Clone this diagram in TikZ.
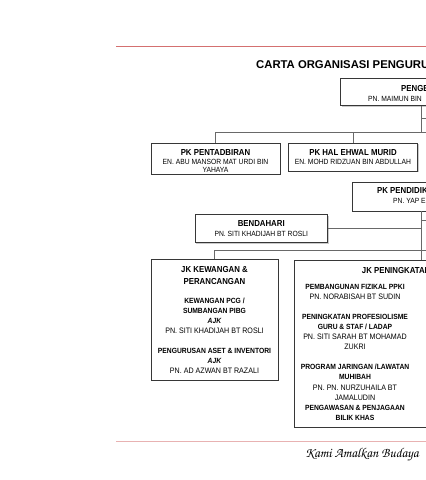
\documentclass[tikz,border=0pt]{standalone}
\usepackage{fontspec}
\setmainfont{Liberation Sans}
\newfontfamily\narrowfont[FakeStretch=0.9]{Liberation Sans}
\usetikzlibrary{positioning,calc,shadows}
\definecolor{cLine}{RGB}{105,105,105}
\definecolor{cBorder}{RGB}{55,55,55}
\definecolor{cRule}{RGB}{212,112,112}
\definecolor{cRuleSoft}{RGB}{232,178,178}
\tikzset{
	orgbox/.style={rectangle, draw=cBorder, line width=0.8pt, fill=white, inner sep=0pt,
		drop shadow={shadow xshift=1.2pt, shadow yshift=-1.2pt, opacity=0.35, fill=black!60}},
	link/.style={draw=cLine, line width=0.9pt},
	rule/.style={line width=0.9pt},
	% text styles
	ttl/.style={font=\bfseries\fontsize{11.3}{13}\selectfont, inner sep=0pt},
	hd/.style={font=\narrowfont\bfseries\fontsize{8.7}{10}\selectfont, inner sep=0pt},
	sub/.style={font=\narrowfont\bfseries\fontsize{7.5}{9}\selectfont, inner sep=0pt},
	ajk/.style={font=\narrowfont\bfseries\itshape\fontsize{7.5}{9}\selectfont, inner sep=0pt},
	nm/.style={font=\narrowfont\fontsize{7.5}{9}\selectfont, inner sep=0pt},
	nmb/.style={font=\narrowfont\fontsize{7.9}{9}\selectfont, inner sep=0pt},
	motto/.style={font=\usefont{OT1}{pzc}{mb}{it}\fontsize{13.6}{15}\selectfont, inner sep=0pt},
}

\begin{document}
\begin{tikzpicture}[x=1pt, y=-1pt]
	\useasboundingbox (0,0) rectangle (426,480);
	\clip (0,0) rectangle (426,480);
	\draw[rule, cRule] (116,46) -- (426,46);
	\draw[rule, cRuleSoft] (116,441) -- (426,441);
	\node[ttl, anchor=base west] (title) at (256,68) {CARTA ORGANISASI PENGURUSAN};

	% boxes
	\node[orgbox, minimum width=161, minimum height=27.5] (penge) at (421,91.75) {};
	\node[orgbox, minimum width=129, minimum height=31] (pentadbiran) at (215.5,158.5) {};
	\node[orgbox, minimum width=129, minimum height=28] (ehwal) at (353,157) {};
	\node[orgbox, minimum width=138, minimum height=29] (pendidikan) at (421,196.5) {};
	\node[orgbox, minimum width=132.5, minimum height=28] (bendahari) at (261.25,228.5) {};
	\node[orgbox, minimum width=127, minimum height=120.5] (kewangan) at (214.5,319.75) {};
	\node[orgbox, minimum width=254, minimum height=167] (peningkatan) at (421,343.5) {};

	% connectors
	\coordinate (rowA) at (430,132);
	\coordinate (rowB) at (430,250);
	\draw[link] (penge.south) -- (penge.south |- rowA);
	\draw[link] (penge.south |- 0,118) -- ++(12,0);
	\draw[link] (pentadbiran.north) |- (rowA);
	\draw[link] (ehwal.north) -- (ehwal.north |- rowA);
	\draw[link] (pendidikan.south) -- (peningkatan.north);
	\draw[link] (pendidikan.south |- 0,220) -- ++(12,0);
	\draw[link] (bendahari.east) -- (bendahari.east -| pendidikan.south);
	\draw[link] (kewangan.north) |- (rowB);

	% texts
	\node[hd, anchor=base west] (pengeHd) at (401,91) {PENGETUA};
	\node[nm, anchor=base west] (pengeNm) at (368,101.7) {PN. MAIMUN BIN};

	\node[hd, anchor=base] (pentHd) at (215.5,155) {PK PENTADBIRAN};
	\node[nm, anchor=base] (pentNm) at (215.5,164) {EN. ABU MANSOR MAT URDI BIN};
	\node[nm, anchor=base] (pentNm2) at (215.5,172.5) {YAHAYA};

	\node[hd, anchor=base] (ehwalHd) at (353,155) {PK HAL EHWAL MURID};
	\node[nm, anchor=base] (ehwalNm) at (353,164.5) {EN. MOHD RIDZUAN BIN ABDULLAH};

	\node[hd, anchor=base west] (pendHd) at (377,193.5) {PK PENDIDIKAN};
	\node[nm, anchor=base west] (pendNm) at (393,203.5) {PN. YAP E};

	\node[hd, anchor=base] (bendHd) at (261.25,226) {BENDAHARI};
	\node[nm, anchor=base] (bendNm) at (261.25,236.5) {PN. SITI KHADIJAH BT ROSLI};

	\node[hd, anchor=base] (kewHd) at (214.5,272) {JK KEWANGAN \&};
	\node[hd, anchor=base] (kewHd2) at (214.5,284) {PERANCANGAN};
	\node[sub, anchor=base] (kewA) at (214.5,303.5) {KEWANGAN PCG /};
	\node[sub, anchor=base] (kewA2) at (214.5,313.5) {SUMBANGAN PIBG};
	\node[ajk, anchor=base] (kewAjk) at (214.5,323) {AJK};
	\node[nmb, anchor=base] (kewANm) at (214.5,333) {PN. SITI KHADIJAH BT ROSLI};
	\node[sub, anchor=base] (kewB) at (214.5,353.5) {PENGURUSAN ASET \& INVENTORI};
	\node[ajk, anchor=base] (kewBjk) at (214.5,363.5) {AJK};
	\node[nmb, anchor=base] (kewBNm) at (214.5,373.5) {PN. AD AZWAN BT RAZALI};

	\node[hd, anchor=base west] (pengHd) at (361.7,273) {JK PENINGKATAN};
	\node[sub, anchor=base] (pengA) at (355,289.5) {PEMBANGUNAN FIZIKAL PPKI};
	\node[nmb, anchor=base] (pengANm) at (355,299) {PN. NORABISAH BT SUDIN};
	\node[sub, anchor=base] (pengB) at (355,319.5) {PENINGKATAN PROFESIOLISME};
	\node[sub, anchor=base] (pengB2) at (355,329.5) {GURU \& STAF / LADAP};
	\node[nmb, anchor=base] (pengBNm) at (355,339.5) {PN. SITI SARAH BT MOHAMAD};
	\node[nmb, anchor=base] (pengBNm2) at (355,349.5) {ZUKRI};
	\node[sub, anchor=base] (pengC) at (355,369.5) {PROGRAM JARINGAN /LAWATAN};
	\node[sub, anchor=base] (pengC2) at (355,379.5) {MUHIBAH};
	\node[nmb, anchor=base] (pengCNm) at (355,390.5) {PN. PN. NURZUHAILA BT};
	\node[nmb, anchor=base] (pengCNm2) at (355,400.5) {JAMALUDIN};
	\node[sub, anchor=base] (pengD) at (355,410.5) {PENGAWASAN \& PENJAGAAN};
	\node[sub, anchor=base] (pengD2) at (355,420.5) {BILIK KHAS};

	\node[motto, anchor=base west] (motto) at (305,457) {Kami Amalkan Budaya};
\end{tikzpicture}
\end{document}
